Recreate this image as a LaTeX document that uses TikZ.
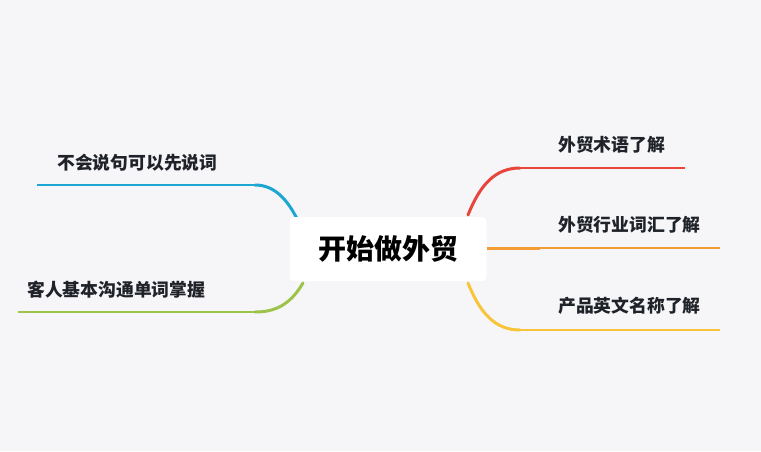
\documentclass[tikz,border=0pt]{standalone}
\usepackage{fontspec}
\newfontfamily\cjk{Noto Sans CJK SC}
\definecolor{bg}{HTML}{F6F6F8}
\definecolor{tx}{HTML}{1F2329}
\definecolor{cr}{HTML}{E8453C}
\definecolor{co}{HTML}{F39C33}
\definecolor{cy}{HTML}{F8C53A}
\definecolor{cb}{HTML}{1BA7D2}
\definecolor{cg}{HTML}{9DC34A}
\begin{document}
\begin{tikzpicture}[x=1pt,y=-1pt,
  lab/.style={font=\cjk\bfseries\fontsize{17.8}{20}\selectfont,text=tx,anchor=west,inner sep=0},
  curve/.style={line width=3pt,line cap=round},
  flat/.style={line width=1.3pt}]
\fill[bg] (0,0) rectangle (761,451);
\useasboundingbox (0,0) rectangle (761,451);
% right branches
\coordinate (r1a) at (468,215); \coordinate (r1b) at (520,168); \coordinate (r1c) at (685,168);
\draw[cr,curve] (r1a) .. controls (480,185) and (495,168) .. (r1b);
\draw[cr,flat] (r1b) -- (r1c);
\coordinate (r2a) at (487,248); \coordinate (r2b) at (540,248); \coordinate (r2c) at (720,248);
\draw[co,line width=3pt] (r2a) -- (r2b);
\draw[co,flat] (r2b) -- (r2c);
\coordinate (r3a) at (468,283); \coordinate (r3b) at (520,330); \coordinate (r3c) at (720,330);
\draw[cy,curve] (r3a) .. controls (480,313) and (495,330) .. (r3b);
\draw[cy,flat] (r3b) -- (r3c);
% left branches
\coordinate (l1a) at (303,232); \coordinate (l1b) at (255,185); \coordinate (l1c) at (37,185);
\draw[cb,curve] (l1a) .. controls (290,200) and (275,185) .. (l1b);
\draw[cb,flat] (l1b) -- (l1c);
\coordinate (l2a) at (303,283); \coordinate (l2b) at (255,312); \coordinate (l2c) at (18,312);
\draw[cg,curve] (l2a) .. controls (290,305) and (275,312) .. (l2b);
\draw[cg,flat] (l2b) -- (l2c);
% center
\node[fill=white,rounded corners=4pt,minimum width=197pt,minimum height=64pt,font=\cjk\bfseries\fontsize{28}{32}\selectfont,text=black] (c) at (388,249) {开始做外贸};
% labels
\node[lab] (t1) at (558,145) {外贸术语了解};
\node[lab] (t2) at (558,225) {外贸行业词汇了解};
\node[lab] (t3) at (558,306) {产品英文名称了解};
\node[lab] (t4) at (57,163) {不会说句可以先说词};
\node[lab] (t5) at (27,290) {客人基本沟通单词掌握};
\end{tikzpicture}
\end{document}
